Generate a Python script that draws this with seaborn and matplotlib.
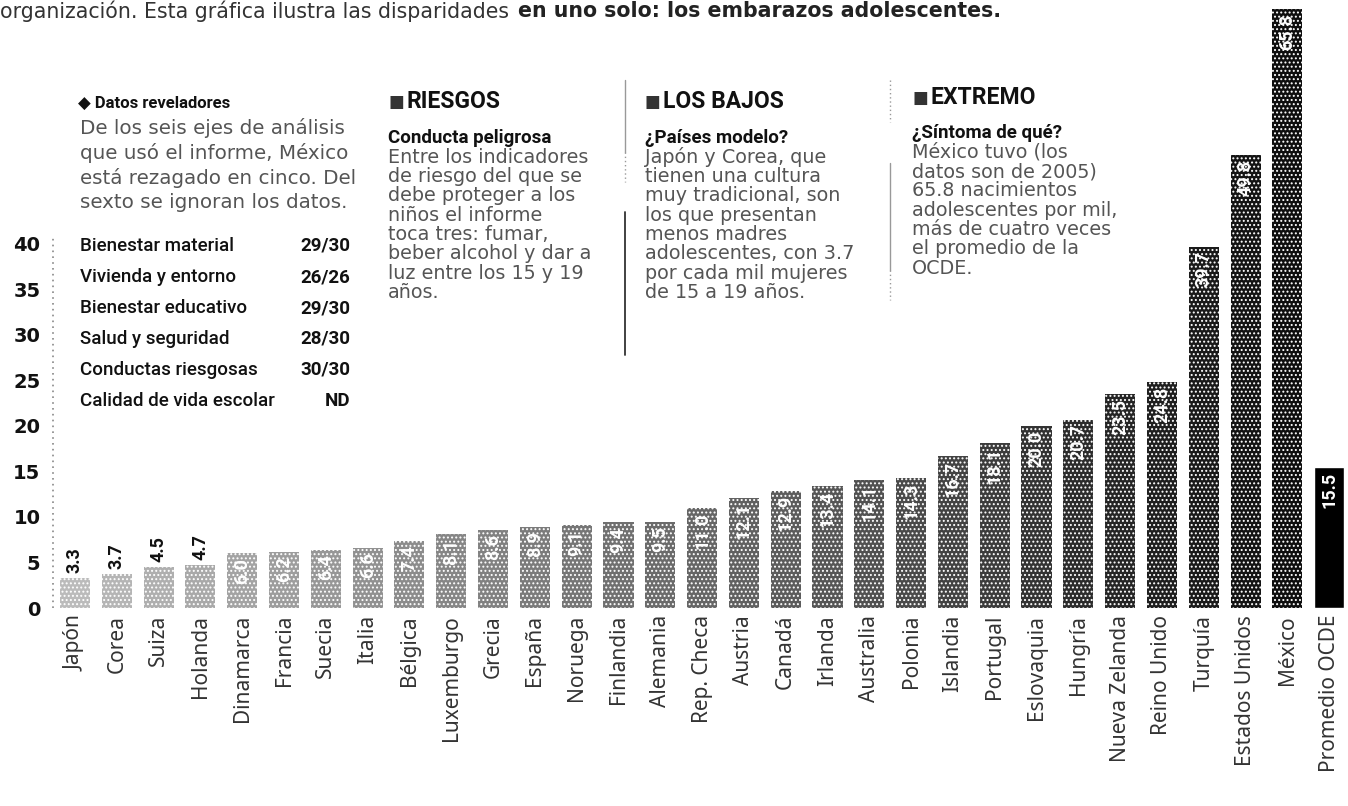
import matplotlib
matplotlib.use("Agg")
import matplotlib.pyplot as plt
import pandas as pd
import seaborn as sns

# datos: nacimientos por cada mil mujeres de 15 a 19 años
paises = ["Japón", "Corea", "Suiza", "Holanda", "Dinamarca", "Francia", "Suecia",
          "Italia", "Bélgica", "Luxemburgo", "Grecia", "España", "Noruega",
          "Finlandia", "Alemania", "Rep. Checa", "Austria", "Canadá", "Irlanda",
          "Australia", "Polonia", "Islandia", "Portugal", "Eslovaquia", "Hungría",
          "Nueva Zelanda", "Reino Unido", "Turquía", "Estados Unidos", "México",
          "Promedio OCDE"]
tasas = [3.3, 3.7, 4.5, 4.7, 6.0, 6.2, 6.4, 6.6, 7.4, 8.1, 8.6, 8.9, 9.1, 9.4,
         9.5, 11.0, 12.1, 12.9, 13.4, 14.1, 14.3, 16.7, 18.1, 20.0, 20.7, 23.5,
         24.8, 39.7, 49.8, 65.8, 15.5]
y_ticks = [0, 5, 10, 15, 20, 25, 30, 35, 40]

ejes = ["Bienestar material", "Vivienda y entorno", "Bienestar educativo",
        "Salud y seguridad", "Conductas riesgosas", "Calidad de vida escolar"]
posiciones = ["29/30", "26/26", "29/30", "28/30", "30/30", "ND"]

intro = ["De los seis ejes de análisis", "que usó el informe, México",
         "está rezagado en cinco. Del", "sexto se ignoran los datos."]
riesgos = ["Entre los indicadores", "de riesgo del que se", "debe proteger a los",
           "niños el informe", "toca tres: fumar,", "beber alcohol y dar a",
           "luz entre los 15 y 19", "años."]
bajos = ["Japón y Corea, que", "tienen una cultura", "muy tradicional, son",
         "los que presentan", "menos madres", "adolescentes, con 3.7",
         "por cada mil mujeres", "de 15 a 19 años."]
extremo = ["México tuvo (los", "datos son de 2005)", "65.8 nacimientos",
           "adolescentes por mil,", "más de cuatro veces", "el promedio de la",
           "OCDE."]

sns.set_theme(style="white")
BODY = ["DejaVu Sans"]
HEAD = ["Roboto", "DejaVu Sans"]
plt.rcParams["font.family"] = ["Noto Sans", "DejaVu Sans"]
plt.rcParams["hatch.linewidth"] = 0.9

W, H = 1348, 806
fig = plt.figure(figsize=(W / 100, H / 100), dpi=100)
fig.patch.set_facecolor("white")
ax = fig.add_axes([53 / W, (H - 608) / H, (W - 53) / W, 608 / H])
ax.set_facecolor("none")

df = pd.DataFrame({"pais": paises, "tasa": tasas})
n = len(paises)
cmap = sns.color_palette("Greys", as_cmap=True)
colores = [cmap(0.38 + 0.57 * i / (n - 2)) for i in range(n - 1)] + ["#000000"]

sns.barplot(data=df, x="pais", y="tasa", hue="pais", palette=colores,
            legend=False, width=0.72, saturation=1, ax=ax)
for i, patch in enumerate(ax.patches):
    if i < n - 1:
        patch.set_hatch("....")
        patch.set_edgecolor("white")
        patch.set_linewidth(0)

x0 = -0.526
ax.set_xlim(x0, 30.45)
ax.set_ylim(0, 66.8)
for s in ax.spines.values():
    s.set_visible(False)
ax.plot([x0, x0], [0, 40.6], color="#888888", lw=1.2, ls=(0, (1, 2.5)),
        clip_on=False)

ax.set_yticks(y_ticks)
ax.set_yticklabels([str(t) for t in y_ticks], fontweight="bold", fontsize=14,
                   family=["DejaVu Sans"])
ax.tick_params(axis="y", length=0, pad=9, colors="#111111")
ax.set_xticks(range(n))
ax.set_xticklabels(paises, rotation=90, fontsize=15, color="#333333")
ax.tick_params(axis="x", length=0, pad=5)
ax.set_xlabel("")
ax.set_ylabel("")
ax.grid(False)

# etiquetas de valor
for i, (p, v) in enumerate(zip(paises, tasas)):
    txt = f"{v:.1f}"
    if i < 4:
        ax.text(i, v + 0.6, txt, rotation=90, ha="center", va="bottom",
                fontsize=13, fontweight="bold", color="#111111", family=HEAD)
    else:
        ax.text(i, v - 0.5, txt, rotation=90, ha="center", va="top",
                fontsize=13, fontweight="bold", color="white", family=HEAD)


def put(x, y, s, **kw):
    kw.setdefault("va", "center")
    kw.setdefault("ha", "left")
    kw.setdefault("color", "#222222")
    return fig.text(x / W, 1 - y / H, s, **kw)


# linea superior
t1 = put(0, 11, "organización. Esta gráfica ilustra las disparidades ",
         fontsize=14.8, family=BODY, color="#333333")
fig.canvas.draw()
bb = t1.get_window_extent(renderer=fig.canvas.get_renderer())
put(bb.x1 + 3, 11, "en uno solo: los embarazos adolescentes.", fontsize=14.8,
    fontweight="bold", family=BODY, color="#222222")

# columna 1
put(78, 103, "◆ Datos reveladores", fontsize=12, fontweight="bold", family=HEAD,
    color="#111111")
for k, line in enumerate(intro):
    put(80, 128 + 25 * k, line, fontsize=14.3, family=BODY, color="#555555")
for k, (e, p) in enumerate(zip(ejes, posiciones)):
    put(80, 246 + 31 * k, e, fontsize=13.5, family=HEAD, fontweight="medium",
        color="#111111")
    put(350, 246 + 31 * k, p, fontsize=13.5, family=HEAD, ha="right",
        fontweight="bold", color="#111111")

# columnas de texto
bloques = [(388, 102, 138, "RIESGOS", "Conducta peligrosa", riesgos),
           (645, 102, 138, "LOS BAJOS", "¿Países modelo?", bajos),
           (912, 98, 133, "EXTREMO", "¿Síntoma de qué?", extremo)]
for x, yh, ys, head, sub, lines in bloques:
    put(x, yh, "■", fontsize=12, family=["DejaVu Sans"], color="#333333")
    put(x + 18, yh, head, fontsize=16.5, fontweight="bold", family=HEAD,
        color="#111111")
    put(x, ys, sub, fontsize=13.5, fontweight="bold", family=HEAD,
        color="#111111")
    for k, line in enumerate(lines):
        put(x, ys + 19.3 * (k + 1), line, fontsize=13.8, family=BODY,
            color="#555555")


# separadores
def vline(x, y1, y2, **kw):
    fig.add_artist(plt.Line2D([x / W, x / W], [1 - y1 / H, 1 - y2 / H], **kw))


vline(625, 80, 152, color="#999999", lw=1)
vline(625, 152, 182, color="#999999", lw=1, ls=(0, (1, 2)))
vline(625, 212, 355, color="#333333", lw=1.3)
vline(890, 80, 122, color="#999999", lw=1, ls=(0, (1, 2)))
vline(890, 163, 270, color="#999999", lw=1)
vline(890, 270, 300, color="#999999", lw=1, ls=(0, (1, 2)))

fig.savefig("out.png", dpi=100)
